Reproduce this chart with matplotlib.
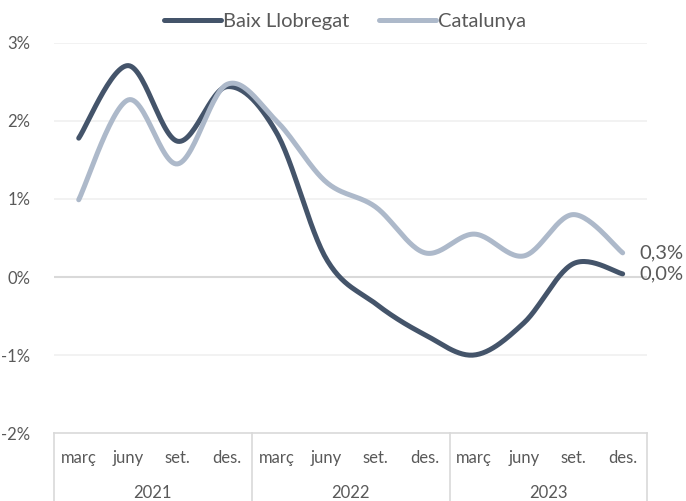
import numpy as np
import matplotlib.pyplot as plt
from matplotlib import transforms

plt.rcParams['font.family'] = ['Lato', 'DejaVu Sans']

# dades
mesos = ['març', 'juny', 'set.', 'des.'] * 3
anys = ['2021', '2022', '2023']
baix = [1.78, 2.71, 1.74, 2.44, 1.85, 0.24, -0.34, -0.74, -1.00, -0.59, 0.17, 0.04]
catalunya = [0.99, 2.27, 1.45, 2.47, 2.00, 1.22, 0.90, 0.31, 0.55, 0.27, 0.80, 0.31]

col_baix = '#44546a'
col_cat = '#adb9ca'
col_text = '#595959'


def suavitza(y, n=30):
    # corba tipus Catmull-Rom (com la línia suavitzada d'Excel)
    y = np.asarray(y, float)
    x = np.arange(len(y), dtype=float)
    xs, ys = [], []
    t = np.linspace(0, 1, n)
    for i in range(len(y) - 1):
        i0, i3 = max(i - 1, 0), min(i + 2, len(y) - 1)
        p0, p1, p2, p3 = [np.array([x[k], y[k]]) for k in (i0, i, i + 1, i3)]
        c1 = p1 + (p2 - p0) / 6
        c2 = p2 - (p3 - p1) / 6
        b = ((1 - t) ** 3)[:, None] * p1 + (3 * (1 - t) ** 2 * t)[:, None] * c1 \
            + (3 * (1 - t) * t ** 2)[:, None] * c2 + (t ** 3)[:, None] * p2
        xs.append(b[:, 0])
        ys.append(b[:, 1])
    return np.concatenate(xs), np.concatenate(ys)


fig = plt.figure(figsize=(6.86, 5.01), dpi=100)
ax = fig.add_axes([0.0787, 0.1357, 0.865, 0.7785])

for v in [-1, 1, 2, 3]:
    ax.axhline(v, color='#f0f0f0', lw=1.2, zorder=0)
ax.axhline(0, color='#d9d9d9', lw=1.5, zorder=0)

xb, yb = suavitza(baix)
xc, yc = suavitza(catalunya)
ax.plot(xb, yb, color=col_baix, lw=3.6, solid_capstyle='round', label='Baix Llobregat', zorder=3)
ax.plot(xc, yc, color=col_cat, lw=3.6, solid_capstyle='round', label='Catalunya', zorder=4)

for serie, dy in [(catalunya, 0), (baix, 0)]:
    txt = f'{serie[-1]:.1f}%'.replace('.', ',')
    ax.annotate(txt, (len(serie) - 1, serie[-1]), xytext=(12, dy), textcoords='offset points',
                va='center', ha='left', fontsize=14.5, color=col_text, annotation_clip=False)

ax.set_xlim(-0.5, len(baix) - 0.5)
ax.set_ylim(-2, 3)
ax.set_yticks(range(-2, 4))
ax.set_yticklabels([f'{v}%' for v in range(-2, 4)])
ax.tick_params(axis='y', length=0, pad=17, labelsize=12, labelcolor=col_text)
ax.set_xticks([])
for s in ['top', 'right', 'left']:
    ax.spines[s].set_visible(False)
ax.spines['bottom'].set_color('#d9d9d9')
ax.spines['bottom'].set_linewidth(1.2)

# eix de categories en dos nivells
trans = transforms.blended_transform_factory(ax.transData, ax.transAxes)
for i, m in enumerate(mesos):
    ax.text(i, -0.064, m, transform=trans, ha='center', va='center', fontsize=12, color=col_text)
for j, a in enumerate(anys):
    ax.text(j * 4 + 1.5, -0.153, a, transform=trans, ha='center', va='center', fontsize=12, color=col_text)
for xsep in [-0.5, 3.5, 7.5, 11.5]:
    ax.plot([xsep, xsep], [0, -0.18], transform=trans, color='#d9d9d9', lw=1.2, clip_on=False)

fig.legend(loc='center', bbox_to_anchor=(0.503, 0.958), ncol=2, frameon=False,
           fontsize=14.5, handlelength=2.8, handletextpad=0.1, columnspacing=1.5,
           labelcolor=col_text)

fig.savefig('out.png', dpi=100)
